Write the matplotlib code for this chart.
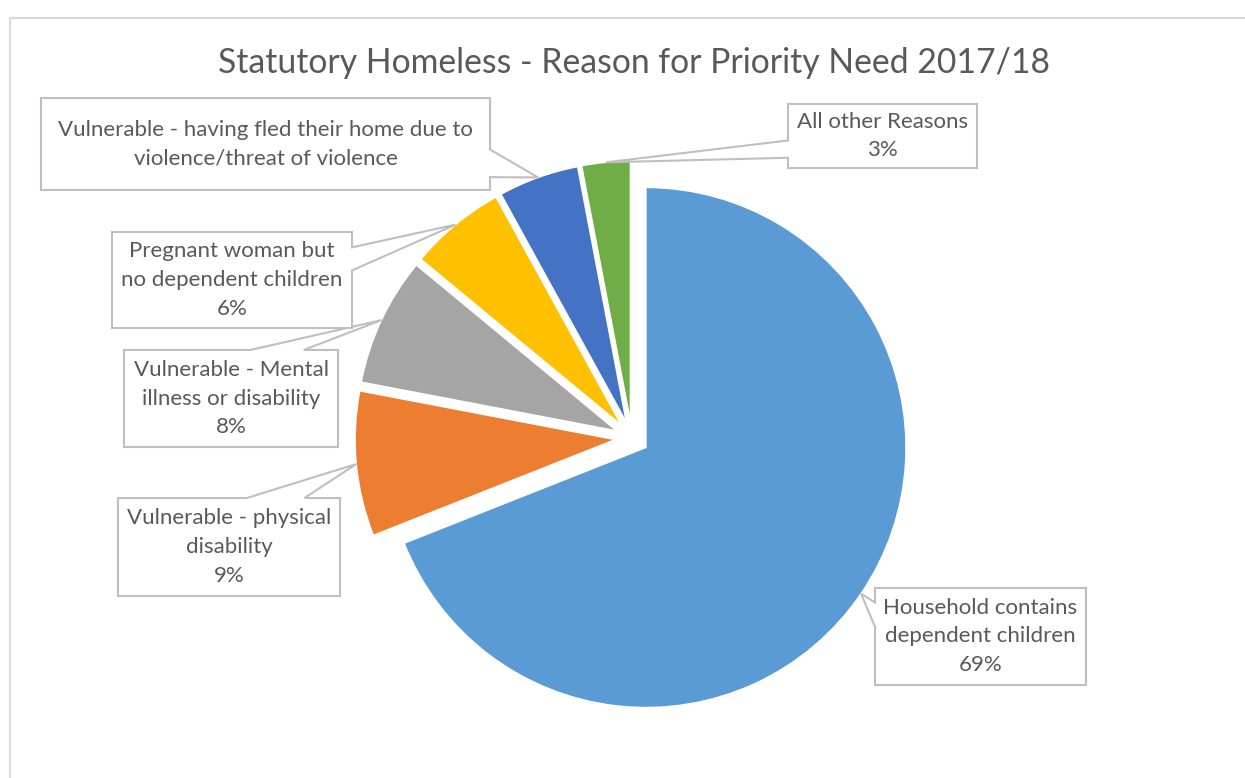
import numpy as np
import matplotlib.pyplot as plt
from matplotlib.patches import Polygon

W, H = 1245, 778

title = 'Statutory Homeless - Reason for Priority Need 2017/18'
reasons = ['Household contains\ndependent children',
           'Vulnerable - physical\ndisability',
           'Vulnerable - Mental\nillness or disability',
           'Pregnant woman but\nno dependent children',
           'Vulnerable - having fled their home due to\nviolence/threat of violence',
           'All other Reasons']
share = [69, 9, 8, 6, 5, 3]
show_pct = [True, True, True, True, False, True]
colors = ['#5B9BD5', '#ED7D31', '#A5A5A5', '#FFC000', '#4472C4', '#70AD47']

# callout boxes in pixel coords (left, top, right, bottom), side the pointer
# leaves from, and where along that side its base sits
boxes = [(875, 588, 1086, 685, 'left', 0.15, 0.40),
         (118, 498, 340, 596, 'top', 0.58, 0.84),
         (124, 350, 338, 447, 'top', 0.59, 0.84),
         (112, 232, 352, 328, 'right', 0.16, 0.40),
         (41, 98, 490, 190, 'right', 0.56, 0.86),
         (788, 104, 977, 168, 'left', 0.57, 0.84)]

plt.rcParams['font.family'] = ['Lato', 'DejaVu Sans']

fig = plt.figure(figsize=(W / 100, H / 100), dpi=100)
ax = fig.add_axes([0, 0, 1, 1])

# pie is laid out in pixel units, explode offsets are absolute
radius = 260
wedges, _ = ax.pie(share, colors=colors, startangle=90, counterclock=False,
                   radius=radius, center=(632, H - 438),
                   explode=[0.065 * radius] * len(share),
                   wedgeprops=dict(edgecolor='white', linewidth=1))
ax.set_xlim(0, W)
ax.set_ylim(0, H)
ax.axis('off')

# chart frame
ax.plot([10, 10], [-5, H - 18], color='#D9D9D9', lw=1.5, solid_capstyle='butt')
ax.plot([10, W + 5], [H - 18, H - 18], color='#D9D9D9', lw=1.5, solid_capstyle='butt')

ax.text(634, H - 63, title, ha='center', va='center', fontsize=24.3,
        color='#595959')


def callout(box, tip):
    x0, t, x1, b, side, f0, f1 = box
    y0, y1 = H - b, H - t
    if side == 'left':
        ya, yb = y1 - f0 * (y1 - y0), y1 - f1 * (y1 - y0)
        pts = [(x0, y1), (x1, y1), (x1, y0), (x0, y0), (x0, yb), tip, (x0, ya)]
    elif side == 'right':
        ya, yb = y1 - f0 * (y1 - y0), y1 - f1 * (y1 - y0)
        pts = [(x0, y1), (x1, y1), (x1, ya), tip, (x1, yb), (x1, y0), (x0, y0)]
    else:
        xa, xb = x0 + f0 * (x1 - x0), x0 + f1 * (x1 - x0)
        pts = [(x0, y1), (xa, y1), tip, (xb, y1), (x1, y1), (x1, y0), (x0, y0)]
    ax.add_patch(Polygon(pts, closed=True, facecolor='white',
                         edgecolor='#BFBFBF', lw=1.5, joinstyle='miter', zorder=3))
    return (x0 + x1) / 2, (y0 + y1) / 2


for w, name, val, pct, box in zip(wedges, reasons, share, show_pct, boxes):
    mid = np.deg2rad((w.theta1 + w.theta2) / 2)
    tip = (w.center[0] + w.r * np.cos(mid), w.center[1] + w.r * np.sin(mid))
    cx, cy = callout(box, tip)
    label = name + ('\n%d%%' % val if pct else '')
    ax.text(cx, cy, label, ha='center', va='center', fontsize=16,
            color='#595959', linespacing=1.55, zorder=4)

fig.savefig('out.png', dpi=100, facecolor='white')
